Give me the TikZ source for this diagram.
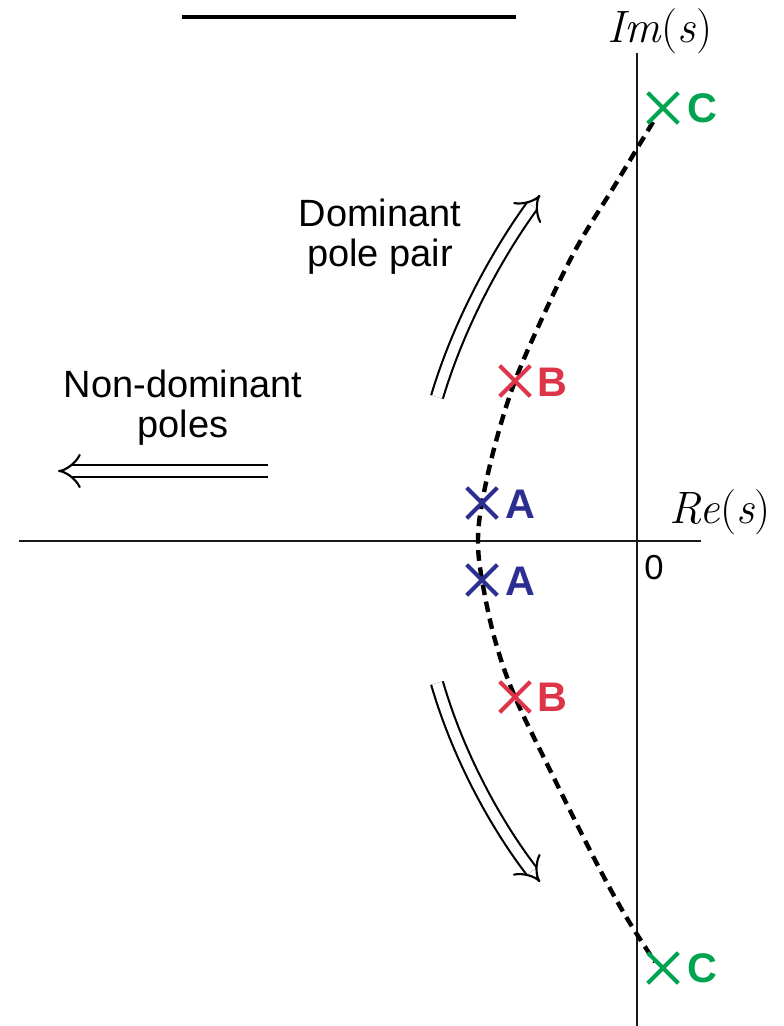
\documentclass[tikz,border=0pt]{standalone}
\usepackage{fontspec}
\newfontfamily\helv{Liberation Sans}
\usetikzlibrary{arrows.meta,shapes.misc}

\definecolor{poleGreen}{RGB}{0,163,80}
\definecolor{poleRed}{RGB}{221,52,74}
\definecolor{poleBlue}{RGB}{44,47,145}

\tikzset{every picture/.style={line width=0.75pt}}
\tikzset{
  axis/.style={line width=2pt, color=black!90},
  pole/.style={cross out, draw, line width=3pt, minimum size=20pt, inner sep=0pt},
  polelabel/.style={font=\helv\bfseries\fontsize{31}{34}\selectfont, inner sep=0pt},
  locus/.style={line width=3.3pt, dash pattern=on 8pt off 5pt},
  hollowarrow/.style={double, double distance=7.5pt, line width=1.6pt, -{Implies[scale=1.35]}},
  caption/.style={font=\helv\fontsize{28.5}{30}\selectfont, align=center, inner sep=0pt},
  mathlabel/.style={font=\fontsize{34}{40}\selectfont, inner sep=0pt}
}

\begin{document}
\begin{tikzpicture}[x=0.75pt,y=0.75pt,yscale=-1,xscale=1]
    \useasboundingbox (0,0) rectangle (783,1026);

    %Straight Lines: title underline
    \draw [line width=2.4pt]  (182,17) -- (516,17) ;

    %Axes
    \coordinate (reL) at (19,541);
    \coordinate (reR) at (701,541);
    \coordinate (imT) at (637,53);
    \coordinate (imB) at (637,1026);
    \draw [axis] (reL) -- (reR) ;
    \draw [axis] (imT) -- (imB) ;

    % Text Node
    \node (imlab) at (660,31) [mathlabel] {\textit{Im}(\textit{s})};
    % Text Node
    \node (relab) at (720,512) [mathlabel] {\textit{Re}(\textit{s})};
    % Text Node
    \node (zero) at (654,568) [font=\helv\fontsize{26}{30}\selectfont, inner sep=0pt] {0};

    %Shape: root locus
    \draw [locus] plot [smooth, tension=0.6] coordinates {(653,122) (615,185) (577,247) (545,312) (515,381) (495,445) (482,503) (478,541) (482,580) (495,640) (515,697) (550,770) (595,860) (625,915) (655,962)} ;

    %Poles
    \node (cTop) at (663,108) [pole, color=poleGreen] {};
    \node (bTop) at (515,381) [pole, color=poleRed] {};
    \node (aTop) at (482,503) [pole, color=poleBlue] {};
    \node (aBot) at (482,580) [pole, color=poleBlue] {};
    \node (bBot) at (515,697) [pole, color=poleRed] {};
    \node (cBot) at (663,968) [pole, color=poleGreen] {};

    % Text Node
    \node (cTopLab) at (702,108) [polelabel, color=poleGreen] {C};
    \node (bTopLab) at (552,382) [polelabel, color=poleRed] {B};
    \node (aTopLab) at (520,504) [polelabel, color=poleBlue] {A};
    \node (aBotLab) at (520,581) [polelabel, color=poleBlue] {A};
    \node (bBotLab) at (552,697) [polelabel, color=poleRed] {B};
    \node (cBotLab) at (702,968) [polelabel, color=poleGreen] {C};

    %Hollow arrows
    \coordinate (domUpS) at (437,397);
    \coordinate (domUpE) at (540,195);
    \coordinate (domDnS) at (437,683);
    \coordinate (domDnE) at (540,882);
    \coordinate (ndS) at (268,471);
    \coordinate (ndE) at (58,471);
    \draw [hollowarrow] (domUpS) .. controls (460,320) and (500,250) .. (domUpE) ;
    \draw [hollowarrow] (domDnS) .. controls (460,762) and (500,830) .. (domDnE) ;
    \draw [hollowarrow] (ndS) -- (ndE) ;

    % Text Node
    \node (domText) at (380,237) [caption] {Dominant\\pole pair};
    % Text Node
    \node (ndText) at (183,408) [caption] {Non-dominant\\poles};

\end{tikzpicture}
\end{document}
